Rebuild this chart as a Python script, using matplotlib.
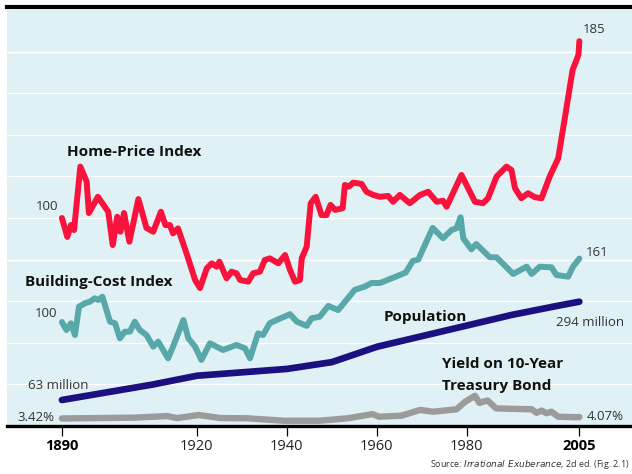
import matplotlib
matplotlib.use("Agg")
import matplotlib.pyplot as plt
from matplotlib.lines import Line2D

plt.rcParams['font.family'] = ['Open Sans', 'DejaVu Sans']

# ---- data ----
hp_years = [1890, 1891.2, 1892, 1892.7, 1894.1, 1895.5, 1896, 1898, 1900.3, 1901.3, 1902.3, 1903,
            1903.8, 1905, 1907, 1908.8, 1910.3, 1912, 1913, 1914, 1914.7, 1915.8, 1917.7, 1919.6,
            1920.7, 1922.2, 1923.3, 1924.4, 1925, 1926.6, 1927.7, 1928.8, 1929.6, 1931.4, 1932.5,
            1934, 1935.1, 1936.2, 1938.1, 1939.6, 1940.7, 1941.8, 1942.9, 1943.3, 1944.4, 1945.3,
            1946.4, 1947.7, 1948.8, 1949.7, 1950.7, 1952.4, 1952.9, 1953.8, 1954.7, 1956.6, 1957.7,
            1959.2, 1960.7, 1962.5, 1963.6, 1965.1, 1967.3, 1969.6, 1971.4, 1973.3, 1974.7, 1975.5,
            1978.8, 1981.8, 1983.6, 1984.7, 1986.6, 1988.8, 1989.9, 1990.7, 1992.1, 1993.6, 1995.1,
            1996.6, 1998.4, 2000.3, 2001.7, 2003.5, 2004.8, 2005]
hp_vals = [100, 90.9, 96.6, 94.2, 124.7, 117.5, 102.4, 110.2, 103, 87, 100.6, 93.4,
           102.4, 88.6, 109.1, 95.2, 93.4, 103, 96.6, 96.6, 92.6, 95, 83, 70.2,
           66.3, 75.8, 78.2, 76.6, 79, 71, 74.2, 73.4, 70.2, 69.4, 73.4,
           74.2, 79.8, 80.6, 78.2, 82.2, 75, 69.4, 70.2, 80.6, 86.2, 107.1,
           110.2, 101.4, 101.4, 106.3, 103.9, 104.7, 115.9, 115.1, 117, 116.4, 112.6,
           111.1, 110.2, 110.6, 107.8, 111.1, 107.1, 111.1, 112.6, 107.8, 108.3, 105.4,
           120.7, 107.8, 107.1, 109.5, 119.9, 124.7, 123.1, 114.3, 109.5, 111.9, 110,
           109.5, 119.9, 128.7, 147.1, 171.2, 178.4, 185]

bc_years = [1890, 1891, 1892, 1892.9, 1893.8, 1895.1, 1896.2, 1897.3, 1898.1, 1899, 1900.7,
            1901.8, 1902.9, 1904, 1905.1, 1906.2, 1907.3, 1908.8, 1910.3, 1911.4, 1913.6, 1914.7,
            1917, 1918.1, 1919.6, 1921, 1922.9, 1925.8, 1928.8, 1930.7, 1931.8, 1933.6, 1934.7,
            1936.2, 1937.7, 1940.7, 1942.2, 1944.4, 1945.5, 1947.3, 1949.2, 1951.4, 1955.1,
            1957.3, 1958.8, 1960.7, 1966.4, 1968, 1969.2, 1972.4, 1974.7, 1976.6, 1977.7, 1978.6,
            1979.2, 1981, 1982.1, 1985.1, 1986.6, 1990.3, 1993.3, 1994.4, 1996.2, 1998.8, 1999.9,
            2002.5, 2003.6, 2005]
bc_vals = [100, 92.3, 98.8, 87.5, 114.7, 118, 119.5, 122.8, 121.2, 124.3, 100.3,
           98.8, 84.3, 90.7, 90.7, 100.3, 92.3, 87.5, 76.3, 81.1, 65.1, 76.3,
           101.9, 84.3, 76.3, 63.5, 79.5, 73.1, 77.9, 74.7, 65.1, 89.1, 87.5,
           98.8, 101.9, 107.5, 100.3, 96.3, 103.6, 105.1, 115.4, 111.5, 131,
           134, 137.5, 137.5, 147.5, 158.8, 160, 190.5, 180.5, 188.5, 190.1, 200.7,
           180.5, 169.9, 175, 162.2, 162.2, 146.2, 153.2, 146.2, 153.2, 152.6, 145.2,
           143.6, 153.2, 161]

pop_years = [1890, 1900, 1910, 1920, 1930, 1940, 1950, 1960, 1970, 1980, 1990, 2000, 2005]
pop_vals = [63, 81, 99, 120, 128, 136, 152, 188, 213, 238, 263, 284, 294]  # millions

yld_years = [1890, 1906, 1913.4, 1915.6, 1920.4, 1925.3, 1931.2, 1939.3, 1947.3, 1953.5, 1959,
             1960.5, 1965.5, 1969.6, 1972.5, 1977.7, 1979.6, 1981.8, 1982.8, 1984.6, 1986.5,
             1990, 1994.4, 1995.5, 1996.6, 1997.7, 1998.8, 2000.3, 2004.4, 2005]
yld_vals = [3.42, 3.8, 4.5, 3.6, 5.0, 3.6, 3.5, 2.4, 2.4, 3.5, 5.4,
            4.2, 4.7, 7.3, 6.5, 7.6, 11.0, 13.7, 10.5, 11.6, 8.0,
            7.8, 7.6, 6.0, 7.0, 5.8, 6.5, 4.2, 4.0, 4.07]

tick_years = [1890, 1920, 1940, 1960, 1980, 2005]

# each series has its own vertical scale on the shared panel (home-price units)
BC_SCALE = 0.5
POP_SCALE, POP_OFFSET = 0.2046, -0.39
YLD_SCALE = 1.058

RED = "#F8123C"
TEAL = "#58A8A9"
NAVY = "#1C0F80"
GREY = "#9B9B9B"
PANEL = "#DFF1F5"

fig = plt.figure(figsize=(6.32, 4.74), dpi=100)
ax = fig.add_axes([7 / 632, 48 / 474, 625 / 632, 416 / 474])
ax.set_facecolor(PANEL)
ax.set_xlim(1877.8, 2016.7)
ax.set_ylim(0, 200)

for gy in range(20, 200, 20):
    ax.axhline(gy, color="white", lw=1.0, zorder=1)

kw = dict(solid_capstyle="round", solid_joinstyle="round", zorder=3)
ax.plot(yld_years, [v * YLD_SCALE for v in yld_vals], color=GREY, lw=4.6, **kw)
ax.plot(pop_years, [v * POP_SCALE + POP_OFFSET for v in pop_vals], color=NAVY, lw=4.8, **kw)
ax.plot(bc_years, [v * BC_SCALE for v in bc_vals], color=TEAL, lw=4.3, **kw)
ax.plot(hp_years, hp_vals, color=RED, lw=4.3, **kw)

# axes styling
for side in ["top", "left", "right"]:
    ax.spines[side].set_visible(False)
ax.spines["bottom"].set_linewidth(2.4)
ax.spines["bottom"].set_color("black")
ax.set_yticks([])
ax.set_xticks(tick_years)
ax.set_xticklabels([str(y) for y in tick_years], fontsize=10.5, color="#222222")
ax.tick_params(axis="x", direction="out", length=7, width=0.9, pad=2.5)
for lbl in ax.get_xticklabels():
    if lbl.get_text() in ("1890", "2005"):
        lbl.set_fontweight("bold")
        lbl.set_color("black")

# series labels
bold = dict(fontsize=11, fontweight="bold", color="#111111", zorder=5)
ax.text(1906, 131.7, "Home-Price Index", ha="center", va="center", **bold)
ax.text(1898.2, 69.2, "Building-Cost Index", ha="center", va="center", **bold)
ax.text(1970.7, 52.4, "Population", ha="center", va="center", **bold)
ax.text(1974.4, 29.8, "Yield on 10-Year", ha="left", va="center", **bold)
ax.text(1974.4, 19.2, "Treasury Bond", ha="left", va="center", **bold)

small = dict(fontsize=9.5, color="#333333", zorder=5)
ax.text(1889.3, 105.3, "100", ha="right", va="center", **small)
ax.text(1888.9, 54.3, "100", ha="right", va="center", **small)
ax.text(1889.1, 19.7, "63 million", ha="center", va="center", **small)
ax.text(1888.3, 4.3, "3.42%", ha="right", va="center", **small)
ax.text(2005.8, 190.4, "185", ha="left", va="center", **small)
ax.text(2006.4, 83.2, "161", ha="left", va="center", **small)
ax.text(1999.7, 50.0, "294 million", ha="left", va="center", **small)
ax.text(2006.7, 4.8, "4.07%", ha="left", va="center", **small)

# black rule across the top of the panel
fig.add_artist(Line2D([7 / 632, 1.0], [467 / 474, 467 / 474], color="black", lw=3.0))

fig.text(0.997, 0.019, "Source: $\\it{Irrational\\ Exuberance}$, 2d ed. (Fig. 2.1)",
         ha="right", va="center", fontsize=6.5, color="#333333")

fig.savefig("out.png", dpi=100)
